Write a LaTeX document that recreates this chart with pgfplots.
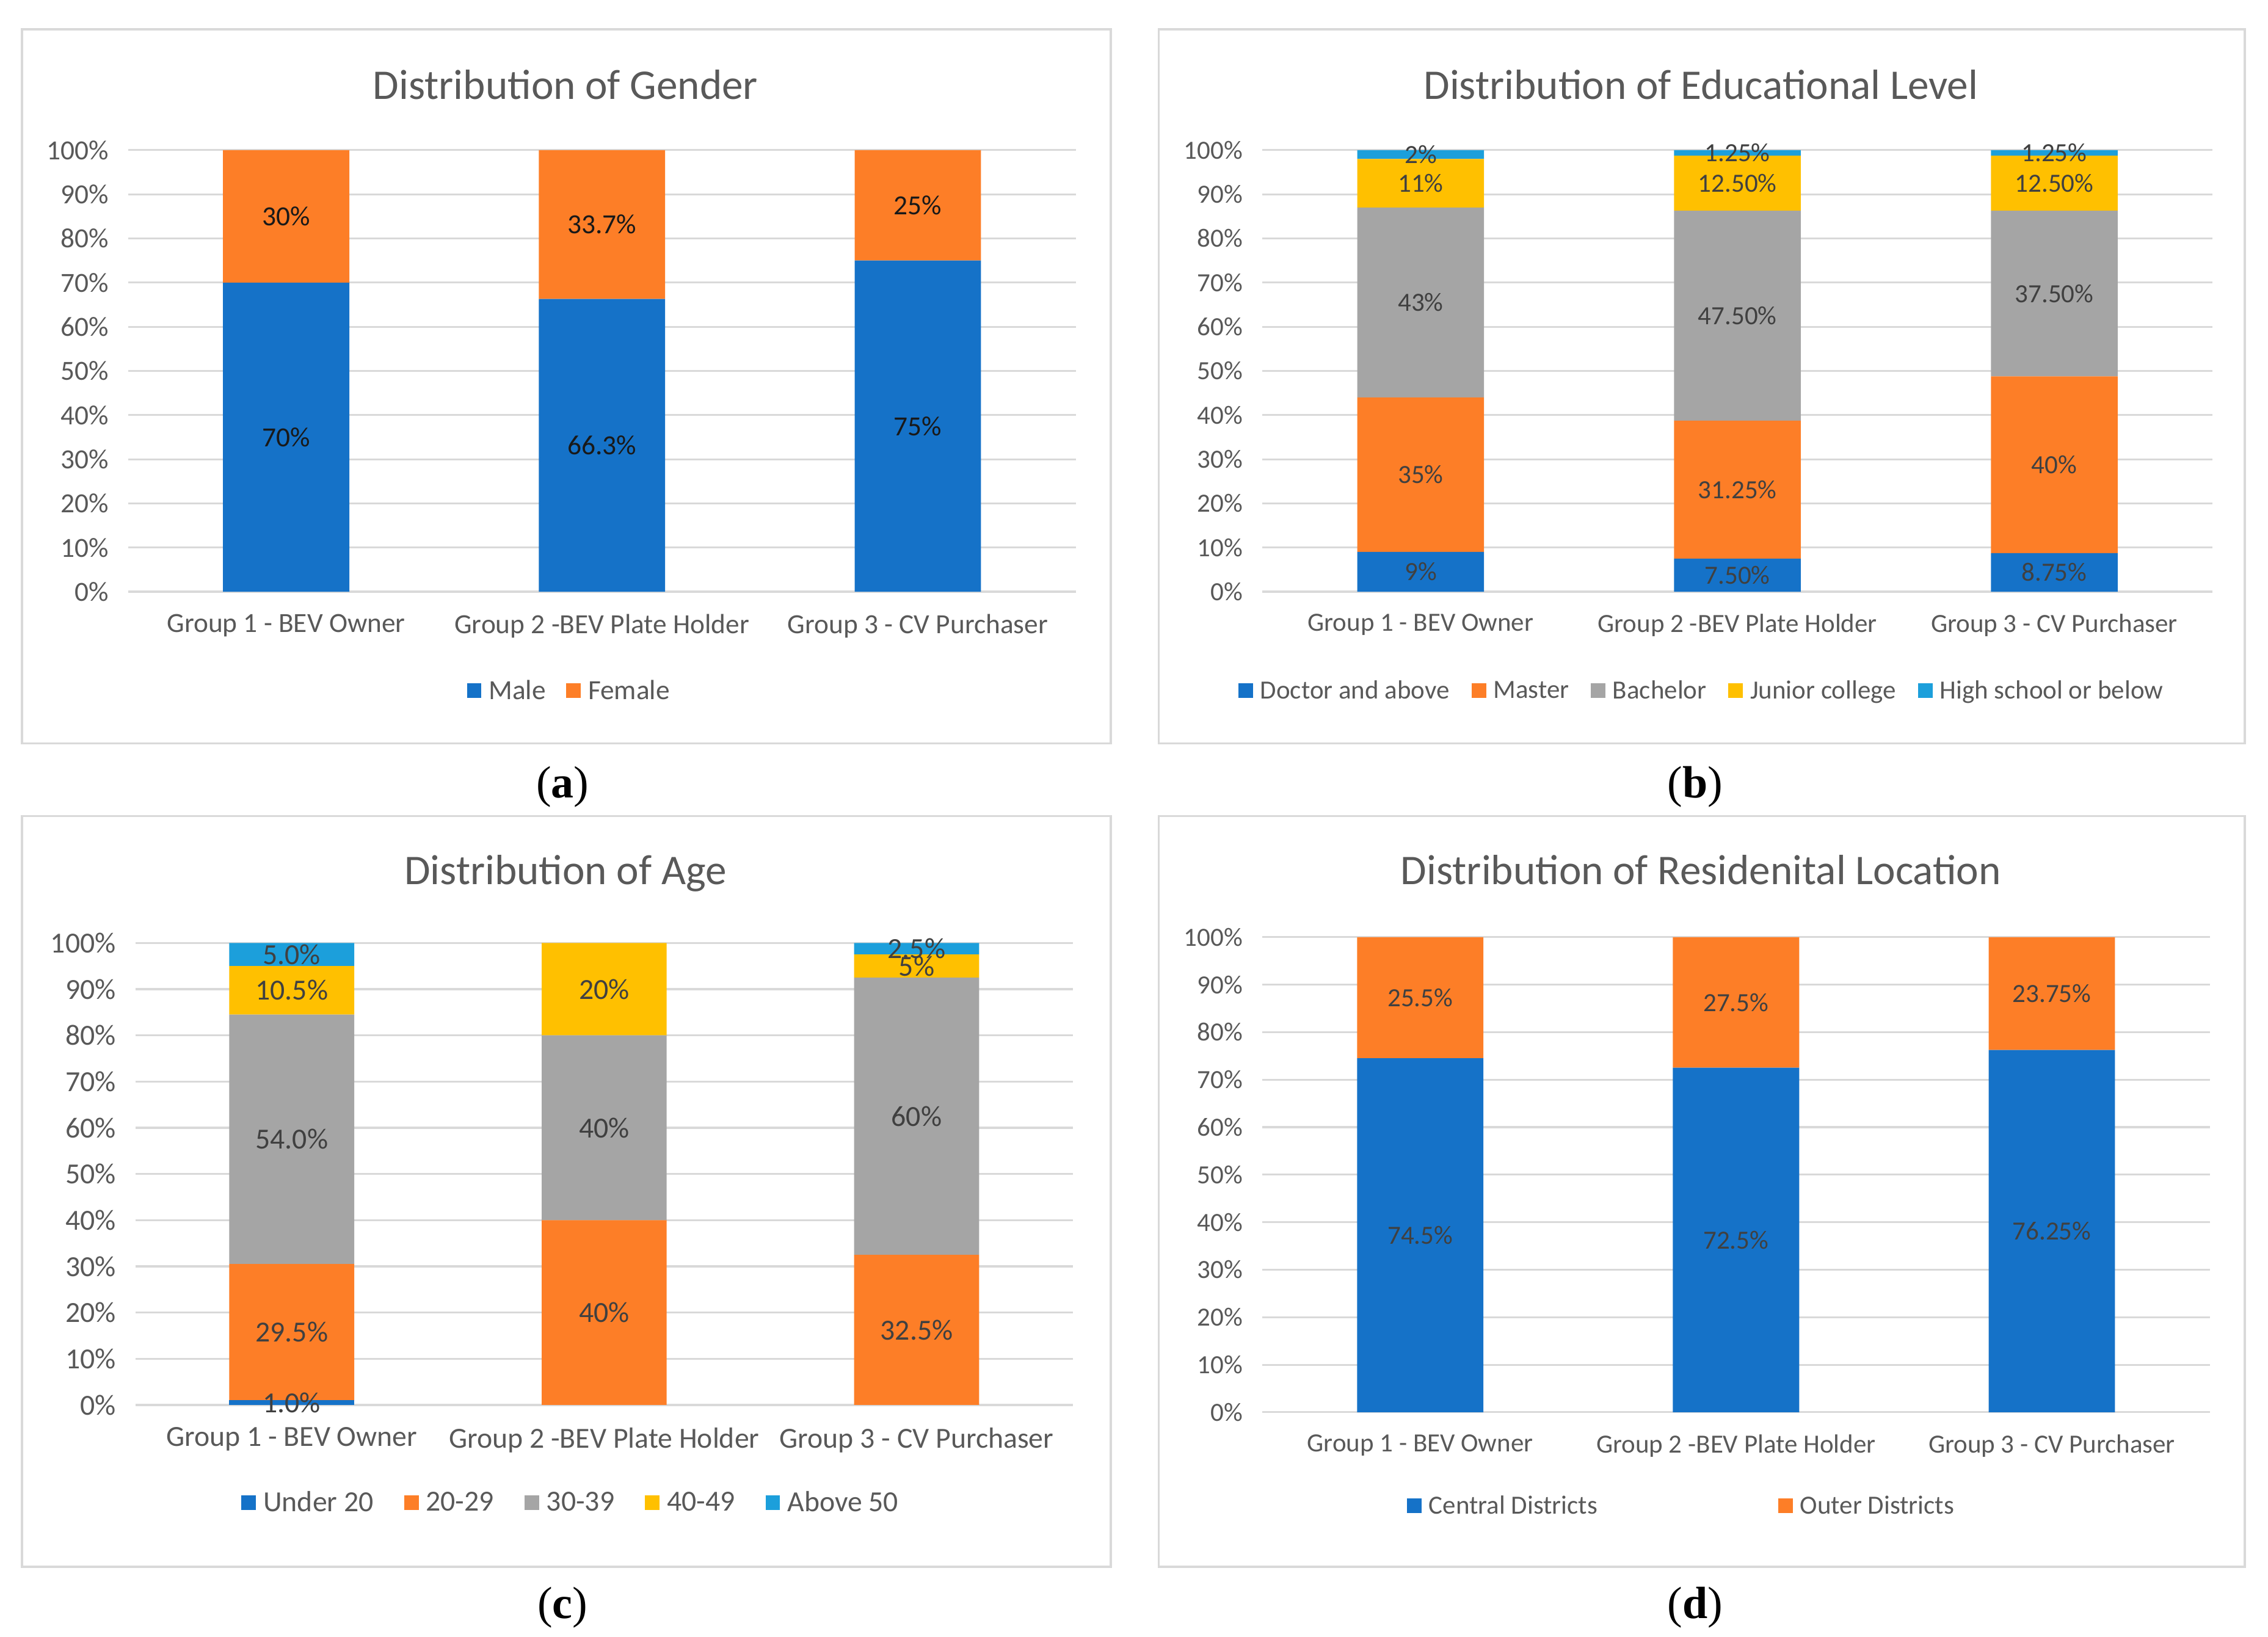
\documentclass[border=0pt]{standalone}
\usepackage{fontspec}
\setmainfont{Carlito}
\newfontfamily\capfont{Liberation Serif}
\usepackage{pgfplots}
\pgfplotsset{compat=1.18}

\definecolor{xblue}{HTML}{1572C8}
\definecolor{xorange}{HTML}{FD7E27}
\definecolor{xgray}{HTML}{A5A5A5}
\definecolor{xgold}{HTML}{FFC000}
\definecolor{xsky}{HTML}{1C9FDB}
\definecolor{txt}{HTML}{595959}
\definecolor{lbl}{HTML}{404040}
\definecolor{gridc}{HTML}{D9D9D9}

\pgfplotsset{
  sqlegend/.style={legend image code/.code={\fill[##1,draw=none] (0bp,-5bp) rectangle (10bp,5bp);}},
  panel/.style={
    anchor=south west, scale only axis,
    ybar stacked, bar width=0.4,
    xmin=-0.5, xmax=2.5, ymin=0, ymax=100,
    xtick={0,1,2},
    xticklabels={Group 1 - BEV Owner, Group 2 -BEV Plate Holder, Group 3 - CV Purchaser},
    ytick={0,10,...,100},
    yticklabels={0\%,10\%,20\%,30\%,40\%,50\%,60\%,70\%,80\%,90\%,100\%},
    axis line style={draw=none},
    tick style={draw=none},
    ymajorgrids, major grid style={gridc, line width=1.3bp},
    tick label style={text=txt},
    yticklabel style={xshift=-10bp},
    xticklabel style={yshift=-12bp},
    legend style={draw=none, fill=none, text=txt, legend columns=-1, anchor=center,
      /tikz/every odd column/.append style={column sep=3bp}},
    every axis plot post/.append style={sqlegend, draw=none},
  },
  % same frame as the bars, only for the data labels at segment centres
  labels/.style={
    anchor=south west, scale only axis, hide axis, clip=false,
    xmin=-0.5, xmax=2.5, ymin=0, ymax=100,
  },
  seglabels/.style={draw=none, mark=none, point meta=explicit symbolic,
    nodes near coords, nodes near coords style={anchor=center}},
}

\begin{document}
\begin{tikzpicture}[x=1bp,y=1bp]
\fill[white] (0,0) rectangle (1556,1123);
\path[use as bounding box] (0,0) rectangle (1556,1123);

% panel frames
\draw[gridc, line width=1.5bp] (15,613) rectangle (762,1103);
\draw[gridc, line width=1.5bp] (795,613) rectangle (1540,1103);
\draw[gridc, line width=1.5bp] (15,48) rectangle (762,563);
\draw[gridc, line width=1.5bp] (795,48) rectangle (1540,563);

% titles
\node[anchor=base, text=txt, font=\fontsize{29bp}{34bp}\selectfont] at (388,1055) {Distribution of Gender};
\node[anchor=base, text=txt, font=\fontsize{29bp}{34bp}\selectfont] at (1167,1055) {Distribution of Educational Level};
\node[anchor=base, text=txt, font=\fontsize{29bp}{34bp}\selectfont] at (388,516) {Distribution of Age};
\node[anchor=base, text=txt, font=\fontsize{29bp}{34bp}\selectfont] at (1167,516) {Distribution of Residenital Location};

% sub-figure labels
\node[font=\capfont\fontsize{31bp}{36bp}\selectfont] at (386,583) {(\textbf{a})};
\node[font=\capfont\fontsize{31bp}{36bp}\selectfont] at (1163,583) {(\textbf{b})};
\node[font=\capfont\fontsize{31bp}{36bp}\selectfont] at (386,20) {(\textbf{c})};
\node[font=\capfont\fontsize{31bp}{36bp}\selectfont] at (1163,20) {(\textbf{d})};

% (a) gender
\begin{axis}[panel, at={(88bp,717bp)}, width=650bp, height=303bp,
  font=\fontsize{19bp}{23bp}\selectfont,
  legend style={at={(0.466,-0.224)},
    /tikz/every even column/.append style={column sep=12bp}}]
\addplot[fill=xblue] coordinates {(0,70) (1,66.3) (2,75)};
\addplot[fill=xorange] coordinates {(0,30) (1,33.7) (2,25)};
\legend{Male, Female}
\end{axis}
\begin{axis}[labels, at={(88bp,717bp)}, width=650bp, height=303bp,
  font=\fontsize{19bp}{23bp}\selectfont]
\addplot[seglabels, nodes near coords style={text=black!90}] coordinates {
  (0,35) [70\%] (1,33.15) [66.3\%] (2,37.5) [75\%]
  (0,85) [30\%] (1,83.15) [33.7\%] (2,87.5) [25\%]};
\end{axis}

% (b) education
\begin{axis}[panel, at={(866bp,717bp)}, width=652bp, height=303bp,
  font=\fontsize{18bp}{22bp}\selectfont,
  legend style={at={(0.463,-0.224)},
    /tikz/every even column/.append style={column sep=13bp}}]
\addplot[fill=xblue] coordinates {(0,9) (1,7.5) (2,8.75)};
\addplot[fill=xorange] coordinates {(0,35) (1,31.25) (2,40)};
\addplot[fill=xgray] coordinates {(0,43) (1,47.5) (2,37.5)};
\addplot[fill=xgold] coordinates {(0,11) (1,12.5) (2,12.5)};
\addplot[fill=xsky] coordinates {(0,2) (1,1.25) (2,1.25)};
\legend{Doctor and above, Master, Bachelor, Junior college, High school or below}
\end{axis}
\begin{axis}[labels, at={(866bp,717bp)}, width=652bp, height=303bp,
  font=\fontsize{18bp}{22bp}\selectfont]
\addplot[seglabels, nodes near coords style={text=lbl}] coordinates {
  (0,4.5) [9\%] (1,3.75) [7.50\%] (2,4.375) [8.75\%]
  (0,26.5) [35\%] (1,23.125) [31.25\%] (2,28.75) [40\%]
  (0,65.5) [43\%] (1,62.5) [47.50\%] (2,67.5) [37.50\%]
  (0,92.5) [11\%] (1,92.5) [12.50\%] (2,92.5) [12.50\%]
  (0,99) [2\%] (1,99.375) [1.25\%] (2,99.375) [1.25\%]};
\end{axis}

% (c) age
\begin{axis}[panel, at={(93bp,159bp)}, width=643bp, height=317bp,
  font=\fontsize{20bp}{24bp}\selectfont,
  legend style={at={(0.465,-0.211)},
    /tikz/every even column/.append style={column sep=19bp}}]
\addplot[fill=xblue] coordinates {(0,1) (1,0) (2,0)};
\addplot[fill=xorange] coordinates {(0,29.5) (1,40) (2,32.5)};
\addplot[fill=xgray] coordinates {(0,54) (1,40) (2,60)};
\addplot[fill=xgold] coordinates {(0,10.5) (1,20) (2,5)};
\addplot[fill=xsky] coordinates {(0,5) (1,0) (2,2.5)};
\legend{Under 20, 20-29, 30-39, 40-49, Above 50}
\end{axis}
\begin{axis}[labels, at={(93bp,159bp)}, width=643bp, height=317bp,
  font=\fontsize{20bp}{24bp}\selectfont]
\addplot[seglabels, nodes near coords style={text=lbl}] coordinates {
  (0,0.5) [1.0\%]
  (0,15.75) [29.5\%] (1,20) [40\%] (2,16.25) [32.5\%]
  (0,57.5) [54.0\%] (1,60) [40\%] (2,62.5) [60\%]
  (0,89.75) [10.5\%] (1,90) [20\%] (2,95) [5\%]
  (0,97.5) [5.0\%] (2,98.75) [2.5\%]};
\end{axis}

% (d) residential location
\begin{axis}[panel, at={(866bp,154bp)}, width=650bp, height=326bp,
  font=\fontsize{18bp}{22bp}\selectfont,
  legend style={at={(0.443,-0.197)},
    /tikz/every even column/.append style={column sep=122bp}}]
\addplot[fill=xblue] coordinates {(0,74.5) (1,72.5) (2,76.25)};
\addplot[fill=xorange] coordinates {(0,25.5) (1,27.5) (2,23.75)};
\legend{Central Districts, Outer Districts}
\end{axis}
\begin{axis}[labels, at={(866bp,154bp)}, width=650bp, height=326bp,
  font=\fontsize{18bp}{22bp}\selectfont]
\addplot[seglabels, nodes near coords style={text=lbl}] coordinates {
  (0,37.25) [74.5\%] (1,36.25) [72.5\%] (2,38.125) [76.25\%]
  (0,87.25) [25.5\%] (1,86.25) [27.5\%] (2,88.125) [23.75\%]};
\end{axis}
\end{tikzpicture}
\end{document}
